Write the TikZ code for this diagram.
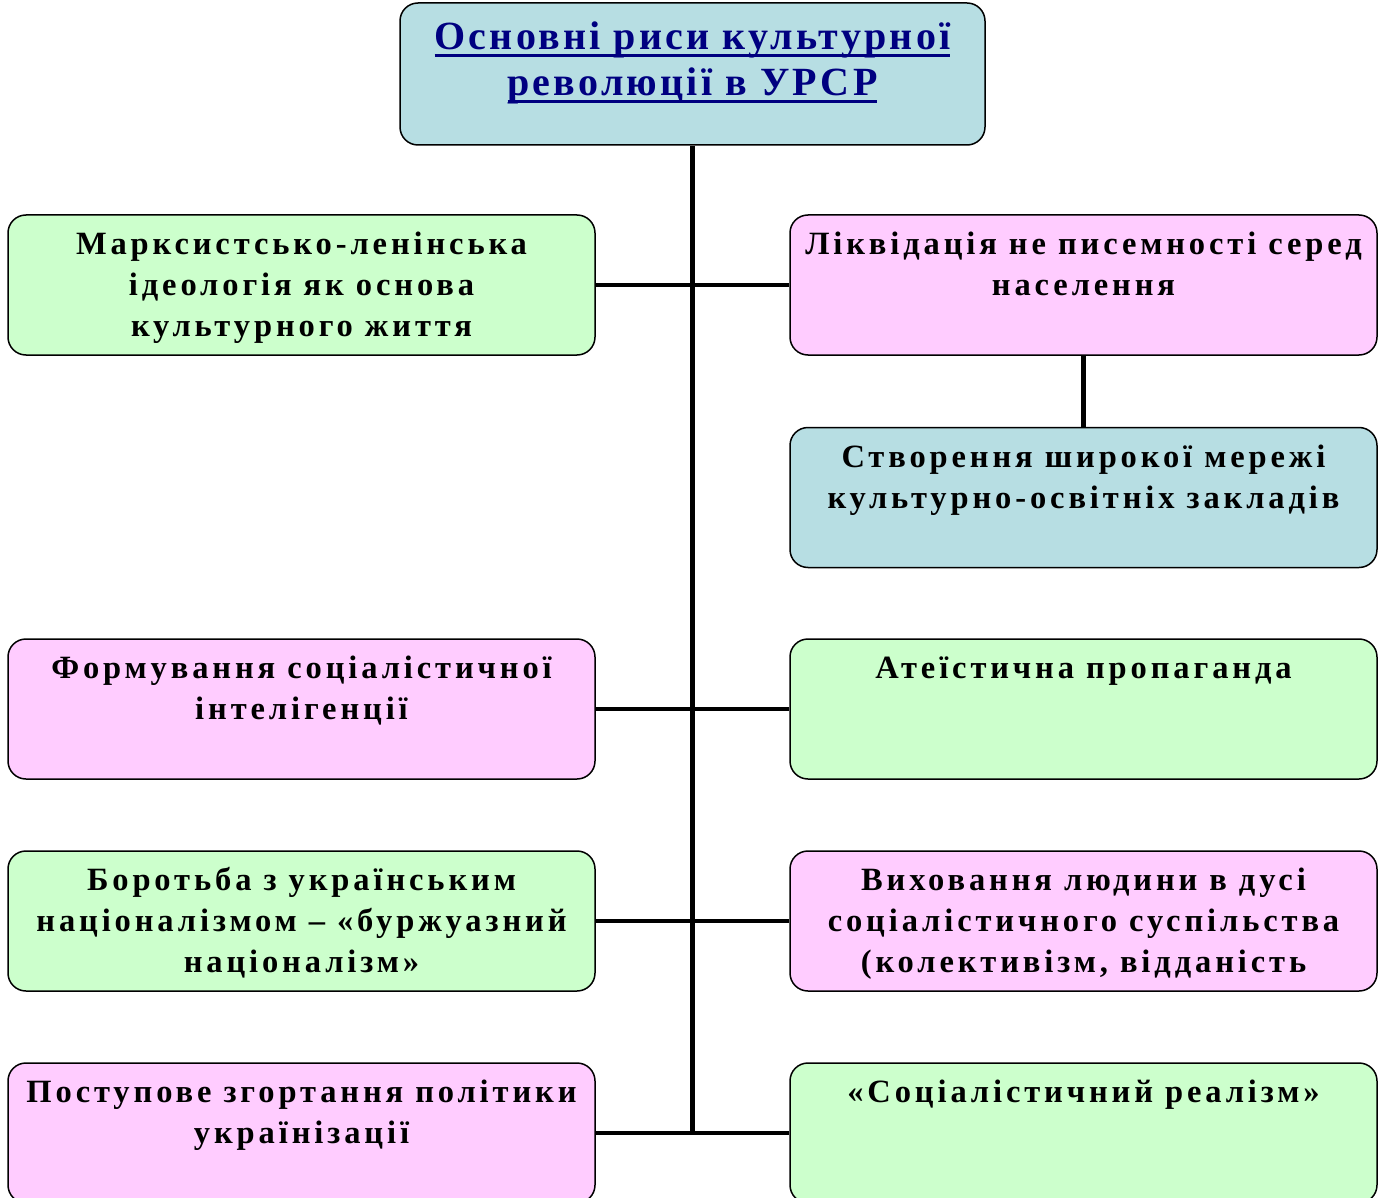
\documentclass[tikz,border=0pt]{standalone}
\usepackage{fontspec}
\setmainfont{Liberation Serif}
\newfontfamily\boxfont{Liberation Serif}[LetterSpace=12]
\newfontfamily\headfont{Liberation Serif}[LetterSpace=8]
\definecolor{headblue}{HTML}{B7DEE3}
\definecolor{featgreen}{HTML}{CCFFCC}
\definecolor{featpink}{HTML}{FFCCFF}
\definecolor{headnavy}{HTML}{000080}
\newcommand{\ulline}[1]{\leavevmode\hbox{\setbox0=\hbox{#1}\rlap{\rule[-7pt]{\wd0}{3pt}}\box0}}
\newcommand{\boxtext}[1]{\parbox[t][140pt][t]{587pt}{\centering\boxfont\bfseries
  \fontsize{32.5}{41}\selectfont\vspace*{11pt}\strut #1}}
\begin{document}
\begin{tikzpicture}[x=1pt,y=-1pt,
    feature/.style={draw,line width=1.5pt,rounded corners=18pt,inner sep=0pt,
      minimum width=587pt,minimum height=140pt},
    link/.style={line width=4.5pt}]
    \useasboundingbox (0,0) rectangle (1387,1198);
    \clip (0,0) rectangle (1387,1198);
    % title
    \node[feature,fill=headblue,minimum width=585pt,minimum height=142pt] (head) at (692.5,74)
      {\parbox[t][142pt][t]{585pt}{\centering\headfont\bfseries\fontsize{40}{46}\selectfont
       \color{headnavy}\vspace*{19pt}\ulline{Основні риси культурної}\par
       \ulline{революції в УРСР}}};
    % left column
    \node[feature,fill=featgreen] (ideology) at (301.5,285)
      {\boxtext{Марксистсько-ленінська\\ ідеологія як основа\\ культурного життя}};
    \node[feature,fill=featpink] (intellig) at (301.5,709)
      {\boxtext{Формування соціалістичної\\ інтелігенції}};
    \node[feature,fill=featgreen] (national) at (301.5,921)
      {\boxtext{Боротьба з українським\\ націоналізмом – «буржуазний\\ націоналізм»}};
    \node[feature,fill=featpink] (ukrain) at (301.5,1133)
      {\boxtext{Поступове згортання політики\\ українізації}};
    % right column
    \node[feature,fill=featpink] (literacy) at (1083.5,285)
      {\boxtext{Ліквідація не писемності серед\\ населення}};
    \node[feature,fill=headblue] (network) at (1083.5,497.5)
      {\boxtext{Створення широкої мережі\\ культурно-освітніх закладів}};
    \node[feature,fill=featgreen] (atheism) at (1083.5,709)
      {\boxtext{Атеїстична пропаганда}};
    \node[feature,fill=featpink] (upbring) at (1083.5,921)
      {\boxtext{Виховання людини в дусі\\ соціалістичного суспільства\\ (колективізм, відданість}};
    \node[feature,fill=featgreen] (realism) at (1083.5,1133)
      {\boxtext{«Соціалістичний реалізм»}};
    % connectors
    \coordinate (trunkend) at (head.south |- ukrain.east);
    \draw[link] (head.south) -- (trunkend);
    \draw[link] (ideology.east) -- (literacy.west);
    \draw[link] (intellig.east) -- (atheism.west);
    \draw[link] (national.east) -- (upbring.west);
    \draw[link] (ukrain.east) -- (realism.west);
    \draw[link] (literacy.south) -- (network.north);
\end{tikzpicture}
\end{document}
